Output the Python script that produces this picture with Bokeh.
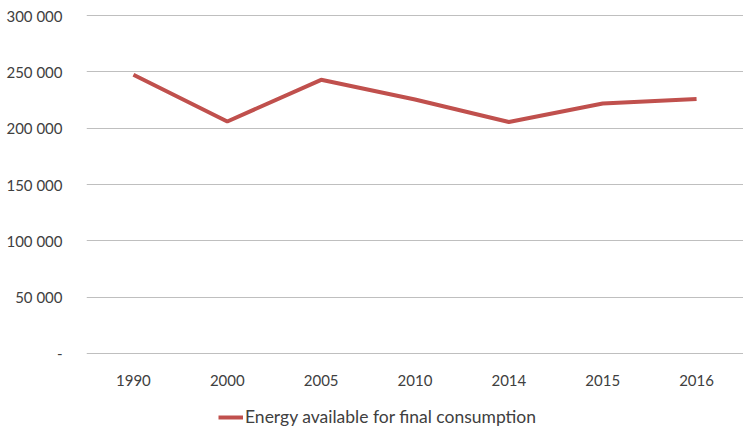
from bokeh.plotting import figure
from bokeh.models import FixedTicker, Legend, LegendItem, Range1d
from bokeh.layouts import column
from bokeh.embed import file_html
from bokeh.resources import INLINE

years = ["1990", "2000", "2005", "2010", "2014", "2015", "2016"]
energy = [247500, 206000, 243000, 225500, 205500, 222000, 226000]
y_ticks = [0, 50000, 100000, 150000, 200000, 250000, 300000]
y_labels = ["-", "50 000", "100 000", "150 000", "200 000", "250 000", "300 000"]
series_name = "Energy available for final consumption"

FONT = "Lato"
TXT = "#404040"
LINE_COLOR = "#C0504D"

p = figure(width=743, height=398, x_range=years, y_range=(-1000, 301000),
           output_backend="svg", toolbar_location=None,
           min_border_left=86, min_border_right=0, min_border_top=14,
           min_border_bottom=44)
p.outline_line_color = None

r = p.line(years, energy, line_color=LINE_COLOR, line_width=4)

p.yaxis.ticker = FixedTicker(ticks=y_ticks)
p.yaxis.major_label_overrides = {t: l for t, l in zip(y_ticks, y_labels)}
for ax in (p.xaxis, p.yaxis):
    ax.axis_line_color = None
    ax.major_tick_line_color = None
    ax.minor_tick_line_color = None
    ax.major_label_text_font = FONT
    ax.major_label_text_font_size = "15px"
    ax.major_label_text_color = TXT
p.yaxis.major_label_standoff = 18
p.xaxis.major_label_standoff = 14

p.xgrid.grid_line_color = None
p.ygrid.grid_line_color = "#BFBFBF"
p.ygrid.grid_line_width = 1

# legend strip below the chart (frame aligned with the chart's frame)
p2 = figure(width=743, height=31, x_axis_type=None, y_axis_type=None,
            x_range=Range1d(0, 1), y_range=Range1d(0, 1),
            output_backend="svg", toolbar_location=None,
            min_border_left=86, min_border_right=0, min_border_top=0,
            min_border_bottom=0)
p2.outline_line_color = None
p2.grid.grid_line_color = None
# swatch-only renderer: a single off-frame point, so only its legend glyph shows
r2 = p2.line([-1], [-1], line_color=LINE_COLOR, line_width=4)
legend = Legend(items=[LegendItem(label=series_name, renderers=[r2])],
                location=(132, 2), orientation="horizontal",
                border_line_color=None, background_fill_alpha=0,
                label_text_font=FONT, label_text_font_size="17.5px",
                label_text_color=TXT, glyph_width=25, label_standoff=2,
                padding=0, margin=0)
p2.add_layout(legend, "center")

layout = column(p, p2, spacing=0)
open("out.html", "w").write(file_html(layout, INLINE))
